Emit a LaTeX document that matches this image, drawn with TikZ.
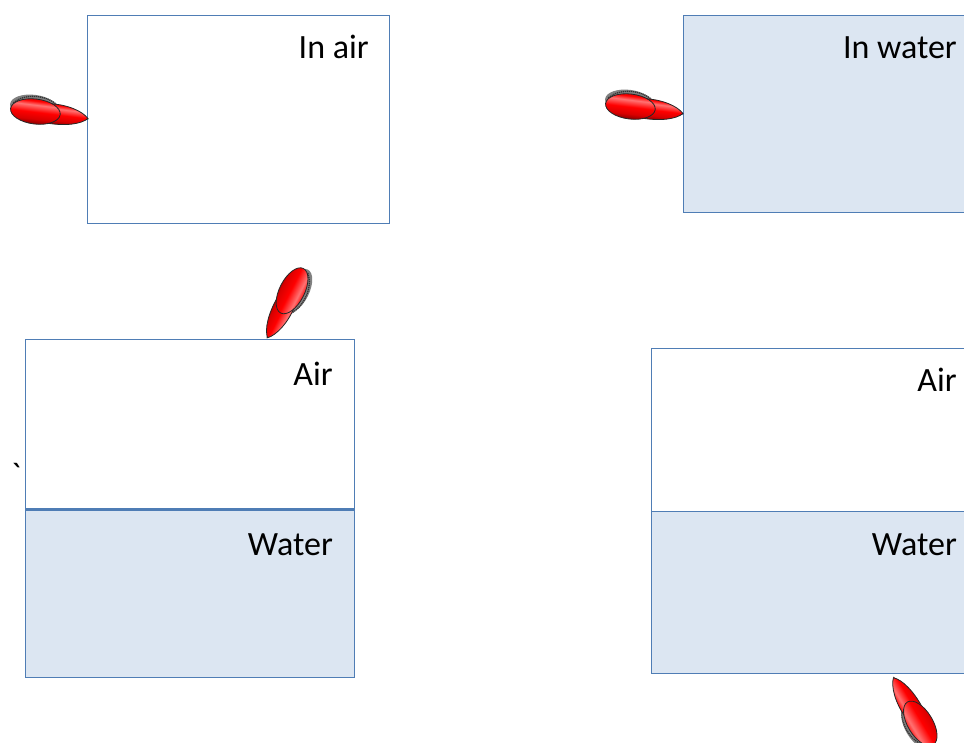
\documentclass[tikz,border=0pt]{standalone}
\usepackage{fontspec}
\setmainfont{Carlito}
\newfontfamily\rawfont[Ligatures=TeXOff]{Carlito}
% glossy red barrel: dark lower edge, bright band with a highlight above the middle
\pgfdeclareverticalshading{barrelshade}{100bp}{%
  color(0bp)=(red!45!black); color(25bp)=(red!45!black); color(36bp)=(red!85!black);
  color(48bp)=(red); color(60bp)=(red!55!white); color(67bp)=(red);
  color(75bp)=(red!80!black); color(100bp)=(red!80!black)}
\begin{document}
\begin{tikzpicture}[x=1pt,y=1pt,
  frame/.style={draw=edgeblue, line width=1.4pt, inner sep=0pt, anchor=north west},
  airbox/.style={frame, fill=white},
  waterbox/.style={frame, fill=waterblue},
  tag/.style={anchor=base east, inner sep=0pt, font=\fontsize{34}{40}\selectfont, text=black},
  barrel/.style={shading=barrelshade, draw=black!85, line width=0.8pt},
  penat/.style={rotate=#1, shading angle=#1},
  pen/.pic={
    % cast shadow of the rear section
    \fill[black!50] (-55,4.5) ellipse [x radius=24, y radius=12];
    \draw[black!80, line width=1.3pt, dash pattern=on 1.2pt off 0.8pt]
      (-76,6) .. controls (-66,17) and (-44,18) .. (-32,9);
    % nib
    \fill[black!70] (1,-1) -- (-8,3) -- (-8,-5) -- cycle;
    % front section, tapering to the nib
    \shade[barrel] (-40,9.5) .. controls (-22,11) and (-6,6) .. (0,-0.5)
      .. controls (-6,-7) and (-22,-11) .. (-40,-10) -- cycle;
    % rear section
    \shade[barrel] (-53,0) ellipse [x radius=25, y radius=12.5];
  }]
\definecolor{edgeblue}{HTML}{4F7DB5}
\definecolor{waterblue}{HTML}{DCE6F2}
\useasboundingbox (0,0) rectangle (964,-742);
\clip (0,0) rectangle (964,-742);

% top row: the object alone in one medium
\node[airbox, minimum width=302pt, minimum height=208pt] (inair) at (87,-15) {};
\node[tag] (inairlbl) at (369,-58) {In air};
\node[waterbox, minimum width=330pt, minimum height=197pt] (inwater) at (683,-15) {};
\node[tag] (inwaterlbl) at (957,-58) {In water};

% bottom left: air above water
\node[airbox, minimum width=329pt, minimum height=169pt] (laair) at (25,-339) {};
\node[waterbox, minimum width=329pt, minimum height=169pt] (lawater) at (25,-508) {};
\draw[edgeblue, line width=2.4pt] (laair.south west) -- (laair.south east);
\node[tag] (laairlbl) at (333,-385) {Air};
\node[tag] (lawaterlbl) at (333,-555) {Water};
\node[anchor=base west, inner sep=0pt, font=\rawfont\fontsize{34}{40}\selectfont] (tick) at (11,-486) {\char"60};

% bottom right: air above water
\node[airbox, minimum width=360pt, minimum height=163pt] (raair) at (651,-348) {};
\node[waterbox, minimum width=360pt, minimum height=162pt] (rawater) at (651,-511) {};
\node[tag] (raairlbl) at (957,-391) {Air};
\node[tag] (rawaterlbl) at (957,-555) {Water};

% the pens, each with its nib at the given point
\pic[penat=-7] at (88,-118) {pen};
\pic[penat=-7] at (683,-113) {pen};
\pic[penat=243] at (268,-338) {pen};
\pic[penat=121] at (893,-678) {pen};
\end{tikzpicture}
\end{document}
